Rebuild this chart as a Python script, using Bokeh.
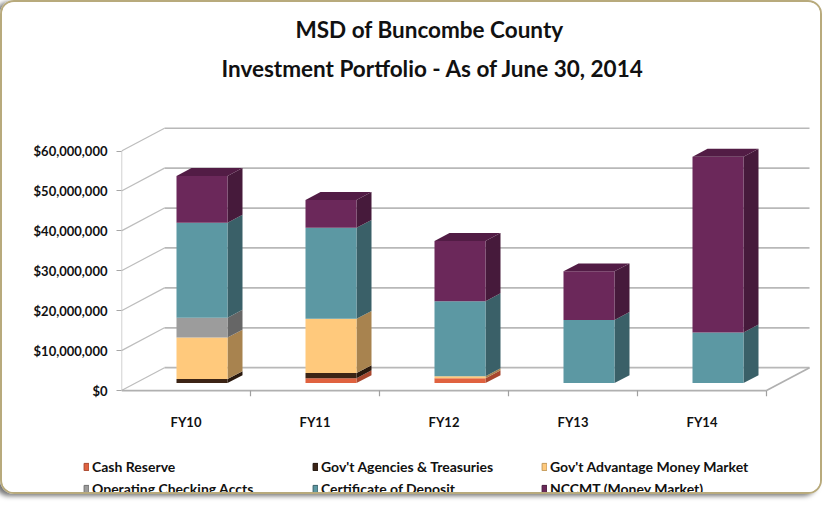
from bokeh.plotting import figure
from bokeh.layouts import column
from bokeh.models import (ColumnDataSource, Range1d, FixedTicker, NumeralTickFormatter,
                          Legend, LegendItem, Title)
from bokeh.embed import file_html
from bokeh.resources import INLINE

# ---------------- data ----------------
fiscal_years = ["FY10", "FY11", "FY12", "FY13", "FY14"]
cash_reserve = [0.0e6, 1.2e6, 1.2e6, 0.0, 0.0]
govt_agencies = [1.0e6, 1.3e6, 0.0, 0.0, 0.0]
govt_advantage = [10.4e6, 13.6e6, 0.5e6, 0.0, 0.0]
operating_checking = [5.0e6, 0.0, 0.0, 0.0, 0.0]
certificate_of_deposit = [23.8e6, 22.8e6, 18.8e6, 15.8e6, 12.7e6]
nccmt = [11.7e6, 7.0e6, 15.1e6, 12.2e6, 44.0e6]
series_names = ["Cash Reserve", "Gov't Agencies & Treasuries", "Gov't Advantage Money Market",
                "Operating Checking Accts", "Certificate of Deposit", "NCCMT (Money Market)"]
y_ticks = [0, 10e6, 20e6, 30e6, 40e6, 50e6, 60e6]

series_values = [cash_reserve, govt_agencies, govt_advantage, operating_checking,
                 certificate_of_deposit, nccmt]
front_colors = ["#E0623F", "#3C2415", "#FFC97C", "#9C9C9C", "#5C98A3", "#6B285A"]
side_colors = ["#A8472E", "#2A190E", "#A8834F", "#666666", "#3A6068", "#461A3B"]
legend_line_colors = ["#A8472E", "#1E120A", "#C49A5A", "#707070", "#3A6068", "#461A3B"]
top_color = "#521C45"

FONT = "Lato"

# ---------------- geometry (pixel -> data) ----------------
W = 818
H_MAIN = 430
H_LEG = 60
TOP = 84                     # px above the frame (titles)
FRAME_H = 312
PX_X = 129.0                 # px per category
PX_Y = 241.0 / 60e6          # px per dollar
n = len(fiscal_years)
x0 = -0.5
x_end = x0 + 695.0 / PX_X
y_start = -6.0 / PX_Y
y_end = (FRAME_H - 6.0) / PX_Y

back_dx, back_dy = 43.0 / PX_X, 23.0 / PX_Y
front_dx, base = 16.0 / PX_X, 7.5 / PX_Y
bar_w = 51.0 / PX_X
side_dx, side_dy = 15.0 / PX_X, 8.0 / PX_Y

p = figure(width=W, height=H_MAIN, output_backend="svg", toolbar_location=None,
           x_range=Range1d(x0, x_end), y_range=Range1d(y_start, y_end),
           min_border_left=119, min_border_right=W - 119 - 695,
           min_border_top=TOP, min_border_bottom=H_MAIN - TOP - FRAME_H)
p.frame_align = False
p.outline_line_color = None
p.grid.visible = False
p.background_fill_color = "white"
p.border_fill_color = "white"

# titles (p.title is the outer line; the added Title sits nearer the frame)
p.title.text = "MSD of Buncombe County"
p.title.align = "left"
p.title.offset = 174
p.title.text_font = FONT
p.title.text_font_size = "22.5px"
p.title.text_font_style = "bold"
p.title.text_color = "#111111"
p.title.standoff = 9
t2 = Title(text="Investment Portfolio - As of June 30, 2014", align="left", offset=100,
           text_font=FONT, text_font_size="22.5px", text_font_style="bold",
           text_color="#111111", standoff=10)
p.add_layout(t2, "above")

# ---------------- walls / grid ----------------
xr_front = x0 + n
xr_back = xr_front + back_dx
p.segment(x0=[x0 + back_dx] * len(y_ticks), y0=[v + back_dy for v in y_ticks],
          x1=[xr_back] * len(y_ticks), y1=[v + back_dy for v in y_ticks],
          line_color="#B8B8B8", line_width=1.7)
p.segment(x0=[x0] * len(y_ticks), y0=y_ticks,
          x1=[x0 + back_dx] * len(y_ticks), y1=[v + back_dy for v in y_ticks],
          line_color="#BDBDBD", line_width=1.2)
p.segment(x0=[x0], y0=[0], x1=[x0], y1=[y_ticks[-1]], line_color="#BDBDBD", line_width=1.4)
p.segment(x0=[x0, xr_front], y0=[0, 0], x1=[xr_front, xr_back], y1=[0, back_dy],
          line_color="#B0B0B0", line_width=1.7)
bx = [x0 + k for k in range(1, n + 1)]
p.segment(x0=bx, y0=[0] * n, x1=bx, y1=[-6.0 / PX_Y] * n, line_color="#A0A0A0", line_width=1.2)

# ---------------- bars ----------------
cum = [0.0] * n
for s, vals in enumerate(series_values):
    lefts, rights, bottoms, tops = [], [], [], []
    sxs, sys_ = [], []
    for i, v in enumerate(vals):
        l = i + front_dx - bar_w / 2
        r = l + bar_w
        b = base + cum[i]
        t = b + v
        lefts.append(l); rights.append(r); bottoms.append(b); tops.append(t)
        if v > 0:
            sxs.append([r, r + side_dx, r + side_dx, r])
            sys_.append([b, b + side_dy, t + side_dy, t])
        cum[i] += v
    if sxs:
        p.patches(xs=sxs, ys=sys_, fill_color=side_colors[s], line_color=None)
    src = ColumnDataSource(dict(left=lefts, right=rights, bottom=bottoms, top=tops))
    p.quad(left="left", right="right", bottom="bottom", top="top", source=src,
           fill_color=front_colors[s], line_color=None)

txs, tys = [], []
for i in range(n):
    l = i + front_dx - bar_w / 2
    r = l + bar_w
    T = base + cum[i]
    txs.append([l, l + side_dx, r + side_dx, r])
    tys.append([T, T + side_dy, T + side_dy, T])
p.patches(xs=txs, ys=tys, fill_color=top_color, line_color=None)

# ---------------- axes ----------------
ya = p.yaxis[0]
ya.ticker = FixedTicker(ticks=y_ticks)
ya.formatter = NumeralTickFormatter(format="$0,0")
ya.axis_line_color = None
ya.major_tick_out = 5
ya.major_tick_in = 0
ya.major_tick_line_color = "#A6A6A6"
ya.minor_tick_line_color = None
ya.major_label_standoff = 9
ya.major_label_text_font = FONT
ya.major_label_text_font_size = "13px"
ya.major_label_text_font_style = "bold"
ya.major_label_text_color = "#111111"

xa = p.xaxis[0]
xa.ticker = FixedTicker(ticks=list(range(n)))
xa.major_label_overrides = {i: fy for i, fy in enumerate(fiscal_years)}
xa.axis_line_color = None
xa.major_tick_line_color = None
xa.minor_tick_line_color = None
xa.major_label_standoff = 11
xa.major_label_text_font = FONT
xa.major_label_text_font_size = "13px"
xa.major_label_text_font_style = "bold"
xa.major_label_text_color = "#111111"

# ---------------- legend strip ----------------
p2 = figure(width=W, height=H_LEG, output_backend="svg", toolbar_location=None,
            x_range=Range1d(0, 1), y_range=Range1d(0, 1),
            x_axis_location=None, y_axis_location=None,
            min_border_left=81, min_border_right=0, min_border_top=26, min_border_bottom=0)
p2.frame_align = False
p2.outline_line_color = None
p2.grid.visible = False
p2.border_fill_color = "white"
p2.title.visible = False
items = []
for s, name in enumerate(series_names):
    # swatch renderer only: its single box lies outside the strip's visible range
    r = p2.quad(left=[2], right=[3], bottom=[2], top=[3], fill_color=front_colors[s],
                line_color=legend_line_colors[s], line_width=1)
    items.append(LegendItem(label=name, renderers=[r]))
legend = Legend(items=items, location="top_left", orientation="horizontal", ncols=3,
                glyph_width=6, glyph_height=9, label_standoff=3, label_width=215,
                label_height=14, spacing=5, padding=0, margin=0,
                border_line_color=None, background_fill_alpha=0,
                label_text_font=FONT, label_text_font_size="14px",
                label_text_font_style="bold", label_text_color="#111111")
p2.add_layout(legend, "center")

layout = column(p, p2, spacing=0)
layout.styles = {"border": "2px solid #B8AA7C", "border-radius": "14px",
                 "box-shadow": "-5px 2px 5px #777", "overflow": "hidden"}

open("out.html", "w").write(file_html(layout, INLINE))
